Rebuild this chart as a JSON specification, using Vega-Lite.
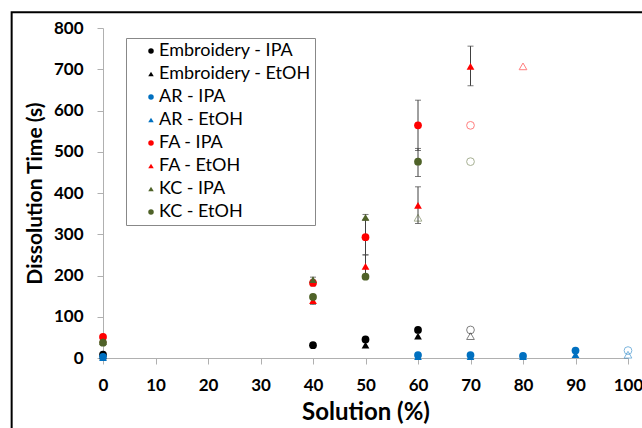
{
  "$schema": "https://vega.github.io/schema/vega-lite/v6.json",
  "width": 525,
  "height": 330,
  "autosize": {"type": "none"},
  "padding": {"left": 103, "top": 28, "right": 14, "bottom": 70},
  "background": "white",
  "config": {
    "view": {"stroke": null},
    "font": "Lato",
    "axis": {"grid": false, "domainColor": "#B0B0B0", "tickColor": "#B0B0B0", "tickSize": 6, "labelFlush": false, "labelOverlap": false, "labelFont": "Lato", "labelFontWeight": "bold", "labelFontSize": 17, "labelColor": "#000000", "titleFont": "Lato", "titleFontWeight": "bold", "titleColor": "#000000"}
  },
  "resolve": {"legend": {"color": "independent", "shape": "independent"}},
  "data": {"values": [
    {"series": "Embroidery - IPA", "x": 0, "y": 8, "open": 0},
    {"series": "Embroidery - IPA", "x": 40, "y": 31, "open": 0},
    {"series": "Embroidery - IPA", "x": 50, "y": 45, "open": 0},
    {"series": "Embroidery - IPA", "x": 60, "y": 68, "open": 0},
    {"series": "Embroidery - IPA", "x": 70, "y": 68, "open": 1},
    {"series": "Embroidery - EtOH", "x": 0, "y": 5, "open": 0},
    {"series": "Embroidery - EtOH", "x": 50, "y": 31, "open": 0},
    {"series": "Embroidery - EtOH", "x": 60, "y": 53, "open": 0},
    {"series": "Embroidery - EtOH", "x": 70, "y": 53, "open": 1},
    {"series": "AR - IPA", "x": 0, "y": 3, "open": 0},
    {"series": "AR - IPA", "x": 60, "y": 7, "open": 0},
    {"series": "AR - IPA", "x": 70, "y": 7, "open": 0},
    {"series": "AR - IPA", "x": 80, "y": 5, "open": 0},
    {"series": "AR - IPA", "x": 90, "y": 18, "open": 0},
    {"series": "AR - IPA", "x": 100, "y": 18, "open": 1},
    {"series": "AR - EtOH", "x": 0, "y": 1, "open": 0},
    {"series": "AR - EtOH", "x": 60, "y": 3, "open": 0},
    {"series": "AR - EtOH", "x": 70, "y": 3, "open": 0},
    {"series": "AR - EtOH", "x": 80, "y": 3, "open": 0},
    {"series": "AR - EtOH", "x": 90, "y": 8, "open": 0},
    {"series": "AR - EtOH", "x": 100, "y": 8, "open": 1},
    {"series": "FA - IPA", "x": 0, "y": 51, "open": 0},
    {"series": "FA - IPA", "x": 40, "y": 182, "lo": 175, "hi": 189, "open": 0},
    {"series": "FA - IPA", "x": 50, "y": 293, "lo": 250, "hi": 336, "open": 0},
    {"series": "FA - IPA", "x": 60, "y": 564, "lo": 503, "hi": 625, "open": 0},
    {"series": "FA - IPA", "x": 70, "y": 564, "open": 1},
    {"series": "FA - EtOH", "x": 0, "y": 46, "open": 0},
    {"series": "FA - EtOH", "x": 40, "y": 139, "lo": 130, "hi": 148, "open": 0},
    {"series": "FA - EtOH", "x": 50, "y": 222, "lo": 196, "hi": 250, "open": 0},
    {"series": "FA - EtOH", "x": 60, "y": 370, "lo": 326, "hi": 415, "open": 0},
    {"series": "FA - EtOH", "x": 70, "y": 707, "lo": 660, "hi": 756, "open": 0},
    {"series": "FA - EtOH", "x": 80, "y": 707, "open": 1},
    {"series": "KC - IPA", "x": 0, "y": 40, "open": 0},
    {"series": "KC - IPA", "x": 40, "y": 190, "lo": 184, "hi": 196, "open": 0},
    {"series": "KC - IPA", "x": 50, "y": 341, "lo": 334, "hi": 348, "open": 0},
    {"series": "KC - IPA", "x": 60, "y": 340, "open": 1},
    {"series": "KC - EtOH", "x": 0, "y": 37, "open": 0},
    {"series": "KC - EtOH", "x": 40, "y": 148, "lo": 143, "hi": 153, "open": 0},
    {"series": "KC - EtOH", "x": 50, "y": 197, "open": 0},
    {"series": "KC - EtOH", "x": 60, "y": 476, "lo": 440, "hi": 508, "open": 0},
    {"series": "KC - EtOH", "x": 70, "y": 476, "open": 1}
  ]},
  "layer": [
    {
      "data": {"values": [{"x0": -17.4, "x1": 130, "y0": 838, "y1": -300}]},
      "mark": {"type": "rect", "fill": null, "stroke": "#000000", "strokeWidth": 2, "clip": false},
      "encoding": {
        "x": {"field": "x0", "type": "quantitative", "scale": {"domain": [0, 100], "nice": false, "zero": false}},
        "x2": {"field": "x1"},
        "y": {"field": "y0", "type": "quantitative", "scale": {"domain": [0, 800], "nice": false}},
        "y2": {"field": "y1"}
      }
    },
    {
      "transform": [{"filter": "isValid(datum.lo)"}],
      "mark": {"type": "rule", "color": "#404040", "strokeWidth": 1},
      "encoding": {
        "x": {"field": "x", "type": "quantitative"},
        "y": {"field": "lo", "type": "quantitative"},
        "y2": {"field": "hi"}
      }
    },
    {
      "transform": [{"filter": "isValid(datum.lo)"}],
      "mark": {"type": "tick", "orient": "horizontal", "color": "#404040", "size": 6, "thickness": 1},
      "encoding": {
        "x": {"field": "x", "type": "quantitative"},
        "y": {"field": "lo", "type": "quantitative"}
      }
    },
    {
      "transform": [{"filter": "isValid(datum.hi)"}],
      "mark": {"type": "tick", "orient": "horizontal", "color": "#404040", "size": 6, "thickness": 1},
      "encoding": {
        "x": {"field": "x", "type": "quantitative"},
        "y": {"field": "hi", "type": "quantitative"}
      }
    },
    {
      "transform": [{"filter": "datum.open == 1"}],
      "mark": {"type": "point", "filled": false, "strokeWidth": 1, "opacity": 0.5, "size": 60},
      "encoding": {
        "x": {"field": "x", "type": "quantitative"},
        "y": {"field": "y", "type": "quantitative"},
        "color": {"field": "series", "type": "nominal", "legend": null},
        "shape": {"field": "series", "type": "nominal", "legend": null}
      }
    },
    {
      "transform": [{"filter": "datum.open == 0"}],
      "mark": {"type": "point", "filled": true, "opacity": 1, "size": 60},
      "encoding": {
        "x": {
          "field": "x", "type": "quantitative",
          "scale": {"domain": [0, 100], "nice": false, "zero": false},
          "axis": {"title": "Solution (%)", "titleFontSize": 24, "values": [0, 10, 20, 30, 40, 50, 60, 70, 80, 90, 100], "labelPadding": 13, "titlePadding": 7}
        },
        "y": {
          "field": "y", "type": "quantitative",
          "scale": {"domain": [0, 800], "nice": false},
          "axis": {"title": "Dissolution Time (s)", "titleFontSize": 21, "values": [0, 100, 200, 300, 400, 500, 600, 700, 800], "labelPadding": 14, "titlePadding": 8}
        },
        "color": {
          "field": "series", "type": "nominal",
          "scale": {
            "domain": ["Embroidery - IPA", "Embroidery - EtOH", "AR - IPA", "AR - EtOH", "FA - IPA", "FA - EtOH", "KC - IPA", "KC - EtOH"],
            "range": ["#000000", "#000000", "#0070C0", "#0070C0", "#FF0000", "#FF0000", "#4F6228", "#4F6228"]
          },
          "legend": {
            "title": null, "orient": "none", "legendX": 23, "legendY": 10,
            "fillColor": "#FFFFFF", "strokeColor": "#888888", "padding": 4,
            "labelFont": "Lato", "labelFontSize": 18, "labelColor": "#000000",
            "symbolSize": 30, "symbolStrokeWidth": 0, "rowPadding": 5, "symbolOffset": 12, "labelOffset": -1
          }
        },
        "shape": {
          "field": "series", "type": "nominal",
          "scale": {
            "domain": ["Embroidery - IPA", "Embroidery - EtOH", "AR - IPA", "AR - EtOH", "FA - IPA", "FA - EtOH", "KC - IPA", "KC - EtOH"],
            "range": ["circle", "triangle-up", "circle", "triangle-up", "circle", "triangle-up", "triangle-up", "circle"]
          },
          "legend": {
            "title": null, "orient": "none", "legendX": 23, "legendY": 10,
            "fillColor": "#FFFFFF", "strokeColor": "#888888", "padding": 4,
            "labelFont": "Lato", "labelFontSize": 18, "labelColor": "#000000",
            "symbolSize": 30, "symbolStrokeWidth": 0, "rowPadding": 5, "symbolOffset": 12, "labelOffset": -1
          }
        }
      }
    }
  ]
}
